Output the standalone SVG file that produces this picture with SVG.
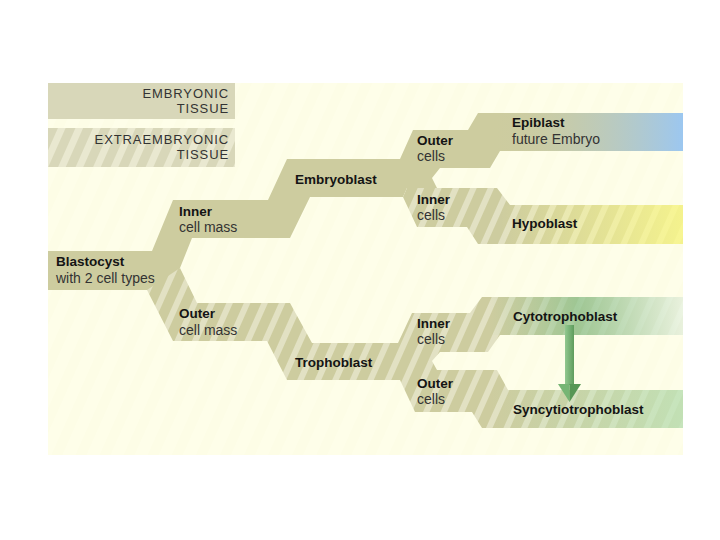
<svg xmlns="http://www.w3.org/2000/svg" width="720" height="540" viewBox="0 0 720 540">
<defs>
<style>
.b{font-family:"Liberation Sans",Arial,sans-serif;font-weight:bold;font-size:13.5px;fill:#141414}
.r{font-family:"Liberation Sans",Arial,sans-serif;font-size:14px;fill:#333}
.lg{font-family:"Liberation Sans",Arial,sans-serif;font-size:13px;fill:#333;letter-spacing:0.9px;text-anchor:end}
.solid{fill:#cdcc9f}
.striped{fill:url(#stripe)}
</style>
<pattern id="stripe" width="16" height="16" patternUnits="userSpaceOnUse" patternTransform="rotate(24)">
<rect width="16" height="16" fill="#cdcc9f"/>
<rect x="10" width="6" height="16" fill="#e2e1c3"/>
</pattern>
<pattern id="lstripe" width="16" height="16" patternUnits="userSpaceOnUse" patternTransform="rotate(24)">
<rect width="16" height="16" fill="#d8d7b9"/>
<rect x="9" width="7" height="16" fill="#e9e8d0"/>
</pattern>
<pattern id="bgstripe" width="22" height="22" patternUnits="userSpaceOnUse" patternTransform="rotate(24)">
<rect width="22" height="22" fill="#fefee9"/>
<rect x="12" width="10" height="22" fill="#fdfde6"/>
</pattern>
<linearGradient id="gEpi" gradientUnits="userSpaceOnUse" x1="490" y1="0" x2="683" y2="0">
<stop offset="0" stop-color="#cdcc9f" stop-opacity="0"/>
<stop offset="1" stop-color="#9cc7f0" stop-opacity="1"/>
</linearGradient>
<linearGradient id="gHypo" gradientUnits="userSpaceOnUse" x1="500" y1="0" x2="683" y2="0">
<stop offset="0" stop-color="#fbf98a" stop-opacity="0"/>
<stop offset="1" stop-color="#fbf98a" stop-opacity="0.85"/>
</linearGradient>
<linearGradient id="gCyto" gradientUnits="userSpaceOnUse" x1="490" y1="0" x2="683" y2="0">
<stop offset="0" stop-color="#9cc99a" stop-opacity="0"/>
<stop offset="0.45" stop-color="#8fc48f" stop-opacity="0.75"/>
<stop offset="1" stop-color="#eef8e8" stop-opacity="0.85"/>
</linearGradient>
<linearGradient id="gSync" gradientUnits="userSpaceOnUse" x1="490" y1="0" x2="683" y2="0">
<stop offset="0" stop-color="#b9e0b4" stop-opacity="0"/>
<stop offset="1" stop-color="#bfe5ba" stop-opacity="0.8"/>
</linearGradient>
<linearGradient id="gShaft" x1="0" y1="0" x2="1" y2="0">
<stop offset="0" stop-color="#92c890"/>
<stop offset="1" stop-color="#5e9c5c"/>
</linearGradient>
</defs>

<rect x="48" y="83" width="635" height="372" fill="url(#bgstripe)"/>

<g id="legend-embryonic">
<rect x="48" y="83" width="187" height="36" fill="#d8d7b9"/>
<text class="lg" x="229" y="98">EMBRYONIC</text>
<text class="lg" x="229" y="113">TISSUE</text>
</g>
<g id="legend-extraembryonic">
<rect x="48" y="128" width="187" height="39" fill="url(#lstripe)"/>
<text class="lg" x="229" y="144">EXTRAEMBRYONIC</text>
<text class="lg" x="229" y="159">TISSUE</text>
</g>

<g id="shapes">
<polygon class="solid" points="48,251 152,251 173,200 268,200 287,159 400,159 413,130 468,130 478,113 683,113 683,151 500,151 490,168 440,168 432,178 437,188 407,188 403,197 310,197 290,238 192,238 180,268 160,290 48,290"/>
<polygon class="striped" points="437,188 497,188 510,205 683,205 683,244 478,244 467,227 417,227 403,197 407,188"/>
<polygon class="striped" points="180,268 197,303 290,303 312,343 398,343 412,313 470,313 482,297 683,297 683,335 500,335 488,352 440,352 432,361 437,370 497,370 508,390 683,390 683,428 482,428 472,412 415,412 400,380 287,380 267,341 173,341 147,290"/>
<rect x="490" y="113" width="193" height="38" fill="url(#gEpi)"/>
<rect x="500" y="205" width="183" height="39" fill="url(#gHypo)"/>
<rect x="490" y="297" width="193" height="38" fill="url(#gCyto)"/>
<rect x="490" y="390" width="193" height="38" fill="url(#gSync)"/>
</g>

<g id="node-blastocyst">
<text class="b" x="56" y="266">Blastocyst</text>
<text class="r" x="56" y="283">with 2 cell types</text>
</g>
<g id="node-inner-cell-mass">
<text class="b" x="179" y="216">Inner</text>
<text class="r" x="179" y="232">cell mass</text>
</g>
<g id="node-outer-cell-mass">
<text class="b" x="179" y="318">Outer</text>
<text class="r" x="179" y="335">cell mass</text>
</g>
<g id="node-embryoblast">
<text class="b" x="295" y="184">Embryoblast</text>
</g>
<g id="node-trophoblast">
<text class="b" x="295" y="367">Trophoblast</text>
</g>
<g id="node-outer-cells-upper">
<text class="b" x="417" y="145">Outer</text>
<text class="r" x="417" y="161">cells</text>
</g>
<g id="node-inner-cells-upper">
<text class="b" x="417" y="204">Inner</text>
<text class="r" x="417" y="220">cells</text>
</g>
<g id="node-inner-cells-lower">
<text class="b" x="417" y="328">Inner</text>
<text class="r" x="417" y="344">cells</text>
</g>
<g id="node-outer-cells-lower">
<text class="b" x="417" y="388">Outer</text>
<text class="r" x="417" y="404">cells</text>
</g>
<g id="node-epiblast">
<text class="b" x="512" y="127">Epiblast</text>
<text class="r" x="512" y="144">future Embryo</text>
</g>
<g id="node-hypoblast">
<text class="b" x="512" y="228">Hypoblast</text>
</g>
<g id="node-cytotrophoblast">
<text class="b" x="513" y="321">Cytotrophoblast</text>
</g>
<g id="node-syncytiotrophoblast">
<text class="b" x="513" y="414">Syncytiotrophoblast</text>
</g>

<g id="connectors">
<rect x="565" y="325" width="9" height="60" fill="url(#gShaft)"/>
<polygon points="558,384 569.5,384 569.5,402" fill="#76b574"/>
<polygon points="569.5,384 581,384 569.5,402" fill="#579755"/>
</g>
</svg>
